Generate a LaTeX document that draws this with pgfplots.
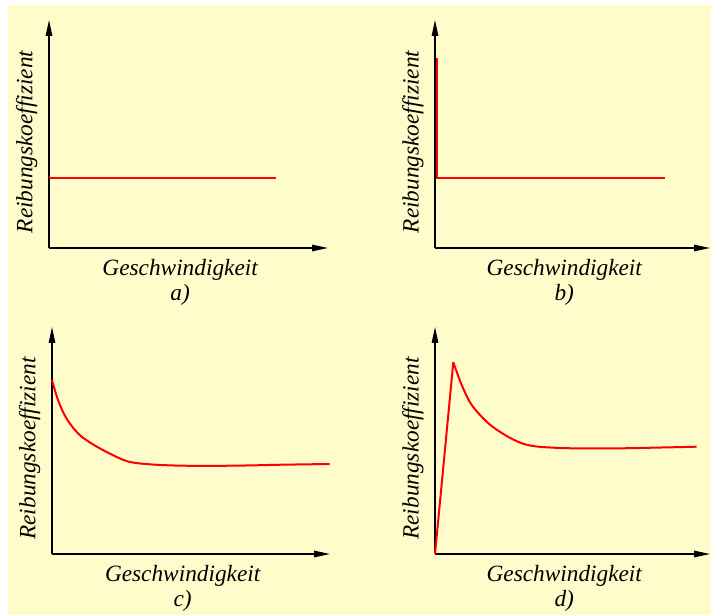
\documentclass[border=0pt]{standalone}
\usepackage{pgfplots}
\pgfplotsset{compat=1.18}
\usepackage{fontspec}
\setmainfont{Liberation Serif}
\usetikzlibrary{arrows.meta}
\definecolor{bgyellow}{RGB}{255,252,204}
\pgfplotsset{
  panel/.style={
    scale only axis,
    axis lines=left,
    axis line style={line width=1.3pt,-{Triangle[length=16pt,width=6.5pt]}},
    xtick=\empty, ytick=\empty,
    enlargelimits=false,
    clip=false,
    xmin=0, ymin=0,
    anchor=south west,
    ylabel={Reibungskoeffizient},
    label style={font=\fontsize{23.3}{25}\selectfont\itshape},
    ylabel style={at={(axis description cs:-0.08,0.465)}, anchor=center, rotate=0},
    xlabel style={at={(axis description cs:0.47,-0.15)}, anchor=center, align=center},
  },
}
\begin{document}
\begin{tikzpicture}[x=1pt,y=1pt]
\fill[white] (0,0) rectangle (711,615);
\fill[bgyellow] (8,0) rectangle (711,610);
% a)
\begin{axis}[panel, at={(49pt,367pt)}, width=279pt, height=228pt, xmax=279, ymax=228,
  xlabel={Geschwindigkeit\\a)}]
\addplot[red, line width=2pt] coordinates {(0,70) (227,70)};
\end{axis}
% b)
\begin{axis}[panel, at={(435pt,367pt)}, width=275pt, height=228pt, xmax=275, ymax=228,
  xlabel={Geschwindigkeit\\b)}]
\addplot[red, line width=2pt] coordinates {(2,190) (2,70) (230,70)};
\end{axis}
% c)
\begin{axis}[panel, at={(52pt,61pt)}, width=278pt, height=227pt, xmax=278, ymax=227,
  xlabel={Geschwindigkeit\\c)}]
\addplot[red, line width=2pt, smooth, tension=0.5] coordinates {
 (0,174) (6,154) (14.4,135.7) (27.7,119) (47.7,105.7) (74.4,93) (97.7,89.7)
 (131,88.3) (181,88.3) (231,89.3) (277.7,90)};
\end{axis}
% d)
\begin{axis}[panel, at={(435pt,61pt)}, width=275pt, height=227pt, xmax=275, ymax=227,
  xlabel={Geschwindigkeit\\d)}]
\addplot[red, line width=2pt] coordinates {(0,0) (18.3,191.7)};
\addplot[red, line width=2pt, smooth, tension=0.5] coordinates {
 (18.3,191.7) (26.7,169) (36.7,149) (53.3,130.7) (70,119) (86.7,110.7)
 (103.3,107.3) (136.7,105.7) (186.7,105.7) (261.7,107.3)};
\end{axis}
\end{tikzpicture}
\end{document}
